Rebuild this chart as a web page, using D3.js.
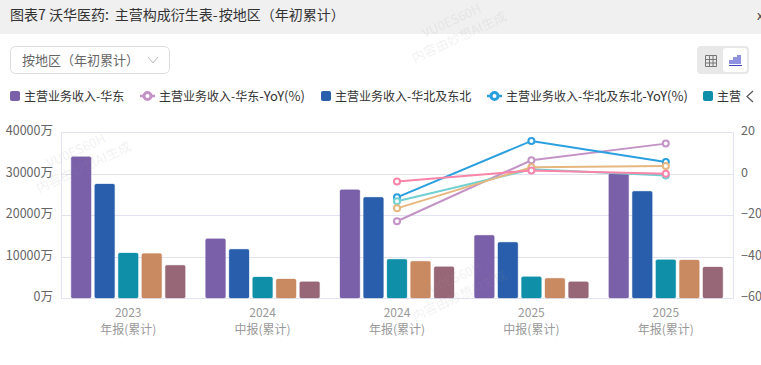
<!DOCTYPE html>
<html>
<head>
<meta charset="utf-8">
<script src="https://cdn.jsdelivr.net/npm/d3@7"></script>
<style>
    html, body { margin: 0; padding: 0; background: #fff; overflow: hidden; }
    text { font-family: "Noto Sans CJK SC", "Noto Sans", sans-serif; }
</style>
</head>
<body>
<div id="my_dataviz"></div>
<script>
// categories
var years = ["2023", "2024", "2024", "2025", "2025"];
var periods = ["年报(累计)", "中报(累计)", "年报(累计)", "中报(累计)", "年报(累计)"];

// bars, 万
var revEast = [34050, 14290, 26100, 15100, 29950];
var revNorth = [27470, 11730, 24260, 13420, 25700];
var revTeal = [10840, 5060, 9330, 5130, 9230];
var revOrange = [10700, 4580, 8840, 4750, 9160];
var revMauve = [7880, 3930, 7550, 3930, 7470];

// lines, YoY %
var yoyEast = [null, null, -23.0, 6.4, 14.4];
var yoyNorth = [null, null, -11.5, 15.7, 5.5];
var yoyTeal = [null, null, -13.4, 2.0, -1.0];
var yoyOrange = [null, null, -16.8, 3.0, 3.6];
var yoyPink = [null, null, -3.8, 1.5, -0.1];

var leftTicks = [0, 10000, 20000, 30000, 40000];
var rightTicks = [-60, -40, -20, 0, 20];

var barColors = ["#7a5fa9", "#285eab", "#0f90a8", "#c98961", "#976778"];
var barSeries = [revEast, revNorth, revTeal, revOrange, revMauve];
var lineSeries = [
    { values: yoyEast, color: "#c393c6" },
    { values: yoyNorth, color: "#2a9fdf" },
    { values: yoyTeal, color: "#70cfd0" },
    { values: yoyOrange, color: "#e6b77f" },
    { values: yoyPink, color: "#f985a9" }
];

var svg = d3.select("#my_dataviz")
    .append("svg")
    .attr("width", 761)
    .attr("height", 365)
    .style("display", "block");

// header strip
svg.append("rect").attr("width", 761).attr("height", 34).attr("fill", "#f0f0f0");
var title = svg.append("text")
    .attr("x", 10).attr("y", 19.5)
    .attr("font-size", 14).attr("fill", "#333");
title.append("tspan").text("图表7 沃华医药:");
title.append("tspan").attr("dx", 6).text("主营构成衍生表-");
title.append("tspan").attr("dx", 1).text("按地区（年初累计）");
svg.append("text")
    .attr("x", 757).attr("y", 20)
    .attr("font-size", 13).attr("fill", "#444")
    .text("x");

// dropdown
svg.append("rect")
    .attr("x", 10.5).attr("y", 46.5).attr("width", 159).attr("height", 27).attr("rx", 5)
    .attr("fill", "#fff").attr("stroke", "#dcdcdc");
svg.append("text")
    .attr("x", 22).attr("y", 65)
    .attr("font-size", 13).attr("fill", "#666")
    .text("按地区（年初累计）");
svg.append("path")
    .attr("d", "M148 57 L153 63 L158 57")
    .attr("fill", "none").attr("stroke", "#bbb");

// table / chart toggle
svg.append("rect")
    .attr("x", 697).attr("y", 46).attr("width", 52).attr("height", 28).attr("rx", 4)
    .attr("fill", "#e8e8e8");
svg.append("rect")
    .attr("x", 723).attr("y", 48).attr("width", 24).attr("height", 24).attr("rx", 3)
    .attr("fill", "#fff");
svg.append("path")
    .attr("d", "M705.5 55.5 H716.5 V66.5 H705.5 Z M705.5 59.5 H716.5 M705.5 63 H716.5 M709.5 55.5 V66.5 M713 55.5 V66.5")
    .attr("fill", "none").attr("stroke", "#777");
svg.append("path")
    .attr("d", "M729 64 V60 H733 V57 H737 V55 H741 V64 Z")
    .attr("fill", "#8f92e0");
svg.append("path")
    .attr("d", "M729 65.5 H742")
    .attr("stroke", "#3f45c4").attr("stroke-width", 1);

// legend
var legend = svg.append("g");
function legendBar(x, color, label) {
    legend.append("rect")
        .attr("x", x).attr("y", 91).attr("width", 10).attr("height", 10).attr("rx", 2)
        .attr("fill", color);
    legend.append("text")
        .attr("x", x + 14).attr("y", 101)
        .attr("font-size", 12).attr("fill", "#333")
        .text(label);
}
function legendLine(x, color, label) {
    legend.append("line")
        .attr("x1", x).attr("x2", x + 15).attr("y1", 96).attr("y2", 96)
        .attr("stroke", color).attr("stroke-width", 2.5);
    legend.append("circle")
        .attr("cx", x + 7.5).attr("cy", 96).attr("r", 3.5)
        .attr("fill", "#fff").attr("stroke", color).attr("stroke-width", 3);
    var t = legend.append("text")
        .attr("x", x + 19).attr("y", 101)
        .attr("font-size", 12).attr("fill", "#333");
    t.append("tspan").text(label);
    t.append("tspan").attr("font-size", 13).text("-YoY(%)");
}
legendBar(10, barColors[0], "主营业务收入-华东");
legendLine(140, lineSeries[0].color, "主营业务收入-华东");
legendBar(321, barColors[1], "主营业务收入-华北及东北");
legendLine(487, lineSeries[1].color, "主营业务收入-华北及东北");
legendBar(703, barColors[2], "主营");
legend.append("path")
    .attr("d", "M753 91 L747 96.5 L753 102")
    .attr("fill", "none").attr("stroke", "#555").attr("stroke-width", 1.2);

// scales
var margin = { top: 132, right: 28, bottom: 67, left: 61 };
var width = 761 - margin.left - margin.right;
var height = 365 - margin.top - margin.bottom;
var chart = svg.append("g")
    .attr("transform", "translate(" + margin.left + "," + margin.top + ")");

var x = d3.scaleBand().domain(d3.range(years.length)).range([0, width]);
var xInner = d3.scaleBand().domain(d3.range(barSeries.length))
    .range([x.bandwidth() / 2 - 57, x.bandwidth() / 2 + 57])
    .paddingInner(0.155).paddingOuter(0);
var yLeft = d3.scaleLinear().domain([0, 40000]).range([height, 0]);
var yRight = d3.scaleLinear().domain([-60, 20]).range([height, 0]);

// grid
chart.append("g")
    .selectAll("line")
    .data(leftTicks)
    .enter()
    .append("line")
    .attr("x1", 0).attr("x2", width)
    .attr("y1", function (d) { return Math.round(yLeft(d)) + 0.5; })
    .attr("y2", function (d) { return Math.round(yLeft(d)) + 0.5; })
    .attr("stroke", "#e2e3f0");

// axes
var axisL = chart.append("g")
    .call(d3.axisLeft(yLeft).tickValues(leftTicks).tickSize(0).tickPadding(8)
        .tickFormat(function (d) { return d + "万"; }));
var axisR = chart.append("g")
    .attr("transform", "translate(" + width + ",0)")
    .call(d3.axisRight(yRight).tickValues(rightTicks).tickSize(0).tickPadding(8));
[axisL, axisR].forEach(function (a) {
    a.select(".domain").attr("stroke", "#e2e3f0");
    a.selectAll("text")
        .attr("dy", "0.22em")
        .attr("font-family", '"Noto Sans CJK SC", "Noto Sans", sans-serif')
        .attr("font-size", 12.5).attr("fill", "#666");
});

var axisB = chart.append("g")
    .attr("transform", "translate(0," + height + ")")
    .call(d3.axisBottom(x).tickSize(0).tickFormat(""));
axisB.select(".domain").attr("stroke", "#e2e3f0");
axisB.selectAll(".tick text").remove();
axisB.selectAll(".tick").each(function (d) {
    var t = d3.select(this).append("text")
        .attr("text-anchor", "middle")
        .attr("font-family", '"Noto Sans CJK SC", "Noto Sans", sans-serif')
        .attr("font-size", 12).attr("fill", "#999");
    t.append("tspan").attr("x", 0).attr("y", 19).text(years[d]);
    t.append("tspan").attr("x", 0).attr("y", 36).text(periods[d]);
});

// bars
barSeries.forEach(function (values, s) {
    chart.append("g")
        .selectAll("rect")
        .data(values)
        .enter()
        .append("rect")
        .attr("x", function (d, i) { return x(i) + xInner(s); })
        .attr("y", function (d) { return yLeft(d); })
        .attr("width", xInner.bandwidth())
        .attr("height", function (d) { return height - yLeft(d); })
        .attr("rx", 1.5)
        .attr("fill", barColors[s])
        .attr("stroke", barColors[s])
        .attr("stroke-opacity", 0.3);
});

// lines
var line = d3.line()
    .defined(function (d) { return d !== null; })
    .x(function (d, i) { return x(i) + x.bandwidth() / 2; })
    .y(function (d) { return yRight(d); });

lineSeries.forEach(function (s) {
    chart.append("path")
        .attr("d", line(s.values))
        .attr("fill", "none")
        .attr("stroke", s.color)
        .attr("stroke-width", 2);
    var points = s.values
        .map(function (v, i) { return { v: v, i: i }; })
        .filter(function (p) { return p.v !== null; });
    chart.append("g")
        .selectAll("circle")
        .data(points)
        .enter()
        .append("circle")
        .attr("cx", function (p) { return x(p.i) + x.bandwidth() / 2; })
        .attr("cy", function (p) { return yRight(p.v); })
        .attr("r", 3)
        .attr("fill", "#fff")
        .attr("stroke", s.color)
        .attr("stroke-width", 2);
});

// watermarks
function watermark(cx, cy) {
    var g = svg.append("g")
        .attr("transform", "translate(" + cx + "," + cy + ") rotate(-25)")
        .attr("fill", "#999").attr("fill-opacity", 0.15).attr("text-anchor", "middle");
    g.append("text").attr("x", 0).attr("y", -5).attr("font-size", 13).text("VU0ES60H");
    g.append("text").attr("x", 0).attr("y", 13).attr("font-size", 13).text("内容由妙想AI生成");
}
watermark(80, 159.5);
watermark(455.5, 29.5);
watermark(456, 288);
</script>
</body>
</html>
